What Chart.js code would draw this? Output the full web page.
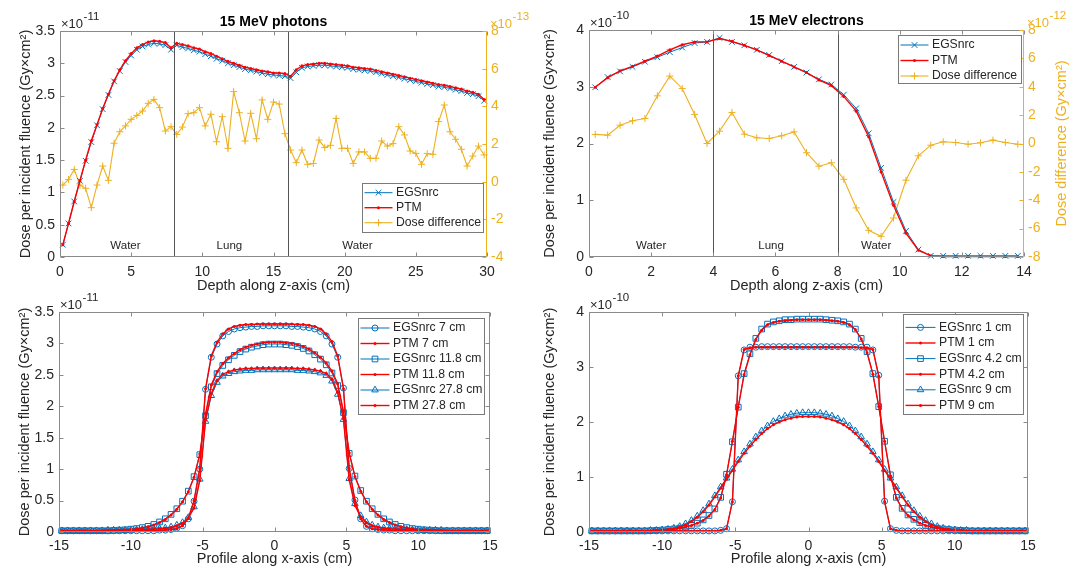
<!DOCTYPE html>
<html>
<head>
<meta charset="utf-8">
<script src="https://cdn.jsdelivr.net/npm/chart.js@4.4.0/dist/chart.umd.min.js"></script>
<style>
  body { margin: 0; background: #fff; width: 1083px; height: 566px; position: relative; overflow: hidden; }
  canvas { position: absolute; }
</style>
</head>
<body>
<canvas id="c1" width="540" height="300" style="left:0;top:0"></canvas>
<canvas id="c2" width="543" height="300" style="left:540px;top:0"></canvas>
<canvas id="c3" width="540" height="273" style="left:0;top:293px"></canvas>
<canvas id="c4" width="543" height="273" style="left:540px;top:293px"></canvas>
<script>
// ---- depth doses (values in units of the axis exponent) ----
const photonDepth = [0.2,0.6,1.0,1.4,1.8,2.2,2.6,3.0,3.4,3.8,4.2,4.6,5.0,5.4,5.8,6.2,6.6,7.0,7.4,7.8,8.2,8.6,9.0,9.4,9.8,10.2,10.6,11.0,11.4,11.8,12.2,12.6,13.0,13.4,13.8,14.2,14.6,15.0,15.4,15.8,16.2,16.6,17.0,17.4,17.8,18.2,18.6,19.0,19.4,19.8,20.2,20.6,21.0,21.4,21.8,22.2,22.6,23.0,23.4,23.8,24.2,24.6,25.0,25.4,25.8,26.2,26.6,27.0,27.4,27.8,28.2,28.6,29.0,29.4,29.8];
const photonEgs = [0.19,0.52,0.86,1.18,1.49,1.78,2.04,2.29,2.51,2.72,2.88,3.02,3.12,3.21,3.26,3.29,3.31,3.30,3.28,3.21,3.28,3.25,3.23,3.20,3.18,3.14,3.11,3.07,3.04,3.00,2.97,2.94,2.91,2.89,2.87,2.85,2.83,2.82,2.81,2.80,2.77,2.86,2.93,2.95,2.96,2.97,2.97,2.96,2.95,2.94,2.93,2.91,2.90,2.89,2.88,2.86,2.84,2.82,2.80,2.78,2.76,2.74,2.72,2.70,2.68,2.66,2.64,2.63,2.61,2.59,2.57,2.54,2.52,2.49,2.42];
const photonPtm = [0.19,0.52,0.86,1.18,1.50,1.80,2.05,2.30,2.52,2.73,2.90,3.04,3.15,3.24,3.29,3.33,3.35,3.34,3.32,3.24,3.31,3.29,3.27,3.24,3.22,3.18,3.15,3.11,3.07,3.03,3.00,2.97,2.94,2.92,2.90,2.88,2.87,2.85,2.85,2.84,2.80,2.90,2.96,2.98,2.99,3.00,3.00,2.99,2.98,2.97,2.96,2.94,2.93,2.92,2.91,2.89,2.87,2.85,2.83,2.81,2.79,2.77,2.75,2.73,2.71,2.69,2.67,2.66,2.64,2.62,2.60,2.57,2.55,2.52,2.44];
const photonDiff = [-0.18,0.12,0.65,-0.18,-0.35,-1.38,-0.18,0.83,0.07,2.04,2.65,2.96,3.31,3.52,3.75,4.16,4.37,3.93,2.69,2.92,2.51,2.90,3.61,3.66,3.93,2.96,3.58,2.12,3.45,1.77,4.78,3.66,2.16,3.63,2.28,4.34,3.31,4.23,4.12,2.55,1.68,1.01,1.68,0.92,0.97,2.21,1.81,1.93,3.36,1.77,1.77,0.97,1.58,1.58,1.24,1.24,2.16,1.89,2.02,2.92,2.48,1.63,1.50,0.92,1.49,1.45,3.19,4.07,2.65,2.25,1.72,0.83,1.36,1.89,1.42];

const electronDepth = [0.2,0.6,1.0,1.4,1.8,2.2,2.6,3.0,3.4,3.8,4.2,4.6,5.0,5.4,5.8,6.2,6.6,7.0,7.4,7.8,8.2,8.6,9.0,9.4,9.8,10.2,10.6,11.0,11.4,11.8,12.2,12.6,13.0,13.4,13.8];
const electronEgs = [2.99,3.17,3.27,3.35,3.44,3.52,3.61,3.69,3.77,3.79,3.86,3.79,3.73,3.65,3.56,3.45,3.35,3.25,3.13,3.04,2.86,2.62,2.18,1.57,0.97,0.46,0.13,0.02,0.02,0.02,0.02,0.02,0.02,0.02,0.02];
const electronPtm = [2.99,3.16,3.28,3.36,3.45,3.54,3.65,3.74,3.79,3.79,3.85,3.80,3.73,3.65,3.55,3.45,3.35,3.25,3.12,3.02,2.83,2.57,2.12,1.50,0.91,0.42,0.12,0.02,0.01,0.01,0.01,0.01,0.01,0.01,0.01];
const electronDiff = [0.64,0.59,1.29,1.60,1.76,3.36,4.75,3.88,2.05,0.0,0.87,2.19,0.66,0.40,0.35,0.54,0.82,-0.65,-1.60,-1.36,-2.52,-4.54,-6.12,-6.54,-5.25,-2.59,-0.87,-0.12,0.12,0.07,-0.05,0.05,0.24,0.07,-0.05];

// ---- lateral profiles ----
const profileX = [-14.8,-14.4,-14.0,-13.6,-13.2,-12.8,-12.4,-12.0,-11.6,-11.2,-10.8,-10.4,-10.0,-9.6,-9.2,-8.8,-8.4,-8.0,-7.6,-7.2,-6.8,-6.4,-6.0,-5.6,-5.2,-4.8,-4.4,-4.0,-3.6,-3.2,-2.8,-2.4,-2.0,-1.6,-1.2,-0.8,-0.4,0,0.4,0.8,1.2,1.6,2.0,2.4,2.8,3.2,3.6,4.0,4.4,4.8,5.2,5.6,6.0,6.4,6.8,7.2,7.6,8.0,8.4,8.8,9.2,9.6,10.0,10.4,10.8,11.2,11.6,12.0,12.4,12.8,13.2,13.6,14.0,14.4,14.8];

const photonEgs7 = [0.02,0.02,0.02,0.02,0.02,0.02,0.02,0.02,0.02,0.02,0.02,0.02,0.02,0.02,0.02,0.02,0.02,0.03,0.03,0.04,0.06,0.10,0.21,0.49,1.00,2.27,2.78,2.99,3.12,3.19,3.23,3.25,3.26,3.27,3.27,3.28,3.28,3.28,3.28,3.28,3.27,3.27,3.26,3.25,3.23,3.19,3.12,2.99,2.78,2.29,1.01,0.51,0.21,0.09,0.05,0.04,0.03,0.03,0.02,0.02,0.02,0.02,0.02,0.02,0.02,0.02,0.02,0.02,0.02,0.02,0.02,0.02,0.02,0.02,0.02];
const photonPtm7 = [0.02,0.02,0.02,0.02,0.02,0.02,0.02,0.02,0.02,0.02,0.02,0.02,0.02,0.02,0.02,0.02,0.02,0.03,0.03,0.04,0.05,0.10,0.22,0.50,1.02,2.28,2.80,3.02,3.15,3.23,3.27,3.29,3.30,3.30,3.31,3.31,3.31,3.31,3.31,3.31,3.31,3.30,3.30,3.29,3.27,3.23,3.15,3.03,2.80,2.28,1.01,0.50,0.21,0.09,0.05,0.04,0.03,0.03,0.02,0.02,0.02,0.02,0.02,0.02,0.02,0.02,0.02,0.02,0.02,0.02,0.02,0.02,0.02,0.02,0.02];
const photonEgs118 = [0.02,0.02,0.02,0.02,0.02,0.02,0.02,0.02,0.02,0.025,0.03,0.035,0.045,0.055,0.07,0.09,0.12,0.16,0.21,0.28,0.37,0.49,0.65,0.88,1.23,1.85,2.31,2.52,2.65,2.74,2.81,2.87,2.91,2.94,2.96,2.98,2.99,2.99,2.99,2.98,2.97,2.95,2.92,2.88,2.82,2.75,2.66,2.53,2.33,1.90,1.25,0.89,0.66,0.49,0.37,0.28,0.21,0.16,0.12,0.09,0.07,0.055,0.045,0.035,0.03,0.025,0.02,0.02,0.02,0.02,0.02,0.02,0.02,0.02,0.02];
const photonPtm118 = [0.02,0.02,0.02,0.02,0.02,0.02,0.02,0.02,0.02,0.025,0.03,0.035,0.04,0.05,0.065,0.085,0.11,0.15,0.20,0.27,0.36,0.48,0.64,0.87,1.24,1.88,2.34,2.55,2.68,2.77,2.84,2.90,2.94,2.97,2.99,3.01,3.02,3.02,3.02,3.01,3.00,2.98,2.95,2.91,2.85,2.78,2.69,2.56,2.36,1.92,1.26,0.88,0.65,0.48,0.36,0.27,0.20,0.15,0.11,0.085,0.065,0.05,0.04,0.035,0.03,0.025,0.02,0.02,0.02,0.02,0.02,0.02,0.02,0.02,0.02];
const photonEgs278 = [0.02,0.02,0.02,0.02,0.02,0.02,0.02,0.02,0.03,0.03,0.03,0.03,0.03,0.035,0.04,0.04,0.05,0.055,0.065,0.08,0.11,0.15,0.23,0.40,0.84,1.76,2.17,2.38,2.48,2.52,2.55,2.56,2.57,2.57,2.58,2.58,2.58,2.58,2.58,2.58,2.58,2.57,2.57,2.56,2.55,2.53,2.49,2.40,2.19,1.79,0.85,0.45,0.26,0.16,0.11,0.08,0.065,0.055,0.05,0.04,0.04,0.035,0.03,0.03,0.03,0.03,0.03,0.02,0.02,0.02,0.02,0.02,0.02,0.02,0.02];
const photonPtm278 = [0.02,0.02,0.02,0.02,0.02,0.02,0.02,0.02,0.03,0.03,0.03,0.03,0.03,0.03,0.035,0.04,0.045,0.05,0.06,0.07,0.10,0.14,0.22,0.38,0.82,1.78,2.20,2.41,2.51,2.55,2.58,2.59,2.60,2.60,2.61,2.61,2.61,2.61,2.61,2.61,2.61,2.60,2.60,2.59,2.58,2.56,2.52,2.43,2.22,1.80,0.83,0.42,0.24,0.15,0.10,0.08,0.06,0.05,0.045,0.04,0.035,0.03,0.03,0.03,0.03,0.03,0.03,0.02,0.02,0.02,0.02,0.02,0.02,0.02,0.02];

const electronEgs1 = [0.02,0.02,0.02,0.02,0.02,0.02,0.02,0.02,0.02,0.02,0.02,0.02,0.02,0.02,0.02,0.02,0.02,0.02,0.02,0.02,0.02,0.02,0.03,0.06,0.55,2.84,3.31,3.36,3.36,3.37,3.37,3.37,3.37,3.37,3.37,3.37,3.37,3.37,3.37,3.37,3.37,3.37,3.37,3.37,3.37,3.36,3.36,3.36,3.31,2.85,0.56,0.06,0.03,0.02,0.02,0.02,0.02,0.02,0.02,0.02,0.02,0.02,0.02,0.02,0.02,0.02,0.02,0.02,0.02,0.02,0.02,0.02,0.02,0.02,0.02];
const electronPtm1 = [0.02,0.02,0.02,0.02,0.02,0.02,0.02,0.02,0.02,0.02,0.02,0.02,0.02,0.02,0.02,0.02,0.02,0.02,0.02,0.02,0.02,0.02,0.03,0.06,0.55,2.84,3.32,3.35,3.36,3.36,3.36,3.36,3.36,3.36,3.36,3.36,3.36,3.36,3.36,3.36,3.36,3.36,3.36,3.36,3.36,3.36,3.35,3.35,3.32,2.83,0.55,0.06,0.03,0.02,0.02,0.02,0.02,0.02,0.02,0.02,0.02,0.02,0.02,0.02,0.02,0.02,0.02,0.02,0.02,0.02,0.02,0.02,0.02,0.02,0.02];
const electronEgs42 = [0.02,0.02,0.02,0.02,0.02,0.02,0.02,0.02,0.02,0.02,0.025,0.03,0.035,0.045,0.055,0.07,0.09,0.12,0.16,0.22,0.30,0.42,0.63,1.05,1.64,2.27,2.88,3.24,3.52,3.69,3.78,3.82,3.84,3.86,3.86,3.87,3.87,3.87,3.87,3.87,3.86,3.85,3.84,3.82,3.78,3.69,3.52,3.28,2.88,2.28,1.65,1.04,0.63,0.43,0.31,0.23,0.17,0.12,0.09,0.07,0.055,0.045,0.035,0.03,0.025,0.02,0.02,0.02,0.02,0.02,0.02,0.02,0.02,0.02,0.02];
const electronPtm42 = [0.02,0.02,0.02,0.02,0.02,0.02,0.02,0.02,0.02,0.02,0.025,0.03,0.035,0.045,0.055,0.07,0.09,0.12,0.16,0.21,0.29,0.41,0.62,1.04,1.65,2.27,2.86,3.22,3.50,3.67,3.77,3.81,3.83,3.84,3.85,3.86,3.86,3.86,3.86,3.86,3.85,3.84,3.83,3.81,3.77,3.68,3.51,3.26,2.87,2.28,1.65,1.02,0.62,0.42,0.30,0.22,0.16,0.12,0.09,0.07,0.055,0.045,0.035,0.03,0.025,0.02,0.02,0.02,0.02,0.02,0.02,0.02,0.02,0.02,0.02];
const electronEgs9 = [0.02,0.02,0.02,0.02,0.02,0.02,0.02,0.02,0.02,0.02,0.03,0.03,0.04,0.05,0.07,0.10,0.15,0.21,0.29,0.39,0.51,0.66,0.82,0.98,1.14,1.31,1.46,1.60,1.73,1.84,1.93,2.01,2.06,2.11,2.14,2.16,2.17,2.17,2.17,2.16,2.14,2.11,2.06,2.01,1.93,1.84,1.73,1.60,1.46,1.31,1.14,0.98,0.82,0.66,0.51,0.39,0.29,0.21,0.15,0.10,0.07,0.05,0.04,0.03,0.03,0.02,0.02,0.02,0.02,0.02,0.02,0.02,0.02,0.02,0.02];
const electronPtm9 = [0.02,0.02,0.02,0.02,0.02,0.02,0.02,0.02,0.02,0.02,0.025,0.03,0.035,0.045,0.06,0.09,0.13,0.19,0.27,0.37,0.49,0.64,0.80,0.96,1.12,1.28,1.43,1.56,1.68,1.79,1.88,1.95,2.00,2.04,2.07,2.09,2.10,2.10,2.10,2.09,2.07,2.04,2.00,1.95,1.88,1.79,1.68,1.56,1.43,1.28,1.12,0.96,0.80,0.64,0.49,0.37,0.27,0.19,0.13,0.09,0.06,0.045,0.035,0.03,0.025,0.02,0.02,0.02,0.02,0.02,0.02,0.02,0.02,0.02,0.02];

// ---- tick labels ----
const photonDepthTicks = [0,5,10,15,20,25,30];
const electronDepthTicks = [0,2,4,6,8,10,12,14];
const profileTicks = [-15,-10,-5,0,5,10,15];
const photonDoseTicks = [0,0.5,1,1.5,2,2.5,3,3.5];
const electronDoseTicks = [0,1,2,3,4];
const photonDiffTicks = [-4,-2,0,2,4,6,8];
const electronDiffTicks = [-8,-6,-4,-2,0,2,4,6,8];

const BLUE = '#0072BD', RED = '#FF0000', ORANGE = '#EDB120', INK = '#262626';
const FONT = '"Liberation Sans", Arial, sans-serif';
Chart.defaults.font.family = FONT;
Chart.defaults.color = INK;

function pts(xs, ys) {
  return xs.map((x, i) => ({ x: x, y: ys[i] }));
}

function egs(label, xs, ys, style, r) {
  return {
    label: label, data: pts(xs, ys), borderColor: BLUE, backgroundColor: BLUE, borderWidth: 1,
    pointStyle: style, pointRadius: r, pointBorderColor: BLUE, pointBackgroundColor: 'rgba(0,0,0,0)',
    pointBorderWidth: 1, order: 1, clip: false, tension: 0
  };
}
function ptm(label, xs, ys) {
  return {
    label: label, data: pts(xs, ys), borderColor: RED, backgroundColor: RED, borderWidth: 1.4,
    pointStyle: 'circle', pointRadius: 1.5, pointBorderColor: RED, pointBackgroundColor: RED,
    pointBorderWidth: 0, order: 0, clip: false, tension: 0
  };
}
function diff(label, xs, ys) {
  return {
    label: label, data: pts(xs, ys), yAxisID: 'y2', borderColor: ORANGE, backgroundColor: ORANGE, borderWidth: 1.1,
    pointStyle: 'cross', pointRadius: 3.5, pointBorderColor: ORANGE, pointBackgroundColor: ORANGE,
    pointBorderWidth: 1, order: 2, clip: false, tension: 0
  };
}

function drawExponent(ctx, x, y, exp, color) {
  ctx.fillStyle = color;
  ctx.textAlign = 'left';
  ctx.textBaseline = 'middle';
  ctx.font = '13px ' + FONT;
  ctx.fillText('×10', x, y);
  const w = ctx.measureText('×10').width;
  ctx.font = '11.5px ' + FONT;
  ctx.fillText(exp, x + w + 0.5, y - 7);
}

// MATLAB-like box, inward ticks, labels and legend
const matlabAxes = {
  id: 'matlab',
  afterDatasetsDraw(chart, args, o) {
    const { ctx, chartArea: ca, scales } = chart;
    const L = Math.round(ca.left) + 0.5, R = Math.round(ca.right) - 0.5;
    const T = Math.round(ca.top) + 0.5, B = Math.round(ca.bottom) - 0.5;
    ctx.save();
    ctx.lineWidth = 1;
    (o.boundaries || []).forEach(v => {
      const px = Math.round(scales.x.getPixelForValue(v)) + 0.5;
      ctx.strokeStyle = '#555555';
      ctx.beginPath(); ctx.moveTo(px, T); ctx.lineTo(px, B); ctx.stroke();
    });
    ctx.fillStyle = INK;
    ctx.font = '11.5px ' + FONT;
    ctx.textAlign = 'center';
    ctx.textBaseline = 'middle';
    (o.regions || []).forEach(r => ctx.fillText(r.text, scales.x.getPixelForValue(r.x), ca.bottom - 11.5));

    const tk = 4;
    ctx.strokeStyle = '#8a8a8a';
    ctx.beginPath();
    ctx.moveTo(R, T); ctx.lineTo(L, T); ctx.lineTo(L, B); ctx.lineTo(R, B);
    if (!scales.y2) ctx.lineTo(R, T);
    scales.x.ticks.forEach(t => {
      const px = Math.round(scales.x.getPixelForValue(t.value)) + 0.5;
      ctx.moveTo(px, B); ctx.lineTo(px, B - tk);
      ctx.moveTo(px, T); ctx.lineTo(px, T + tk);
    });
    scales.y.ticks.forEach(t => {
      const py = Math.round(scales.y.getPixelForValue(t.value)) + 0.5;
      ctx.moveTo(L, py); ctx.lineTo(L + tk, py);
      if (!scales.y2) { ctx.moveTo(R, py); ctx.lineTo(R - tk, py); }
    });
    ctx.stroke();
    if (scales.y2) {
      ctx.strokeStyle = ORANGE;
      ctx.beginPath();
      ctx.moveTo(R, T); ctx.lineTo(R, B);
      scales.y2.ticks.forEach(t => {
        const py = Math.round(scales.y2.getPixelForValue(t.value)) + 0.5;
        ctx.moveTo(R, py); ctx.lineTo(R - tk, py);
      });
      ctx.stroke();
    }
    ctx.restore();
  },
  afterDraw(chart, args, o) {
    const { ctx, chartArea: ca } = chart;
    ctx.save();
    if (o.title) {
      ctx.fillStyle = '#000';
      ctx.font = 'bold 14px ' + FONT;
      ctx.textAlign = 'center';
      ctx.textBaseline = 'middle';
      ctx.fillText(o.title, (ca.left + ca.right) / 2, ca.top - 9);
    }
    drawExponent(ctx, ca.left + 1, ca.top - 7, o.exp, INK);
    if (o.exp2) drawExponent(ctx, ca.right + 3, ca.top - 7, o.exp2, ORANGE);
    if (o.rightTitle) {
      ctx.save();
      ctx.translate(chart.width - 21, (ca.top + ca.bottom) / 2);
      ctx.rotate(-Math.PI / 2);
      ctx.fillStyle = ORANGE;
      ctx.font = '14.5px ' + FONT;
      ctx.textAlign = 'center';
      ctx.textBaseline = 'middle';
      ctx.fillText(o.rightTitle, 0, 0);
      ctx.restore();
    }
    const lg = o.legend;
    ctx.fillStyle = '#fff';
    ctx.fillRect(lg.x, lg.y, lg.w, lg.h);
    ctx.strokeStyle = '#7a7a7a';
    ctx.lineWidth = 1;
    ctx.strokeRect(Math.round(lg.x) + 0.5, Math.round(lg.y) + 0.5, Math.round(lg.w), Math.round(lg.h));
    ctx.font = '12.2px ' + FONT;
    ctx.textAlign = 'left';
    ctx.textBaseline = 'middle';
    chart.data.datasets.forEach((ds, i) => {
      const y = lg.y + lg.first + i * lg.row;
      const x0 = lg.x + 2.5, x1 = x0 + lg.line;
      ctx.strokeStyle = ds.borderColor;
      ctx.lineWidth = ds.borderWidth;
      ctx.beginPath(); ctx.moveTo(x0, y); ctx.lineTo(x1, y); ctx.stroke();
      ctx.fillStyle = ds.pointBackgroundColor;
      ctx.lineWidth = ds.pointBorderWidth || 0.01;
      Chart.helpers.drawPoint(ctx, { pointStyle: ds.pointStyle, radius: ds.pointRadius, rotation: 0, borderWidth: ds.pointBorderWidth }, (x0 + x1) / 2, y);
      ctx.fillStyle = INK;
      ctx.fillText(ds.label, x1 + 3.5, y);
    });
    ctx.restore();
  }
};

const plain = v => String(v);

function xAxis(min, max, ticks, title, h, tickPad, titleShift) {
  return {
    type: 'linear', min: min, max: max,
    grid: { display: false, drawTicks: false }, border: { display: false },
    afterBuildTicks: s => { s.ticks = ticks.map(v => ({ value: v })); },
    afterFit: s => { s.height = h; },
    ticks: { padding: tickPad, color: INK, font: { size: 14 }, maxRotation: 0, callback: plain },
    title: { display: true, text: title, color: INK, font: { size: 14.5 }, padding: { top: 0, bottom: titleShift } }
  };
}
function yAxis(min, max, ticks, w, pad) {
  return {
    type: 'linear', min: min, max: max,
    grid: { display: false, drawTicks: false }, border: { display: false },
    afterBuildTicks: s => { s.ticks = ticks.map(v => ({ value: v })); },
    afterFit: s => { s.width = w; },
    ticks: { padding: 5, color: INK, font: { size: 14 }, callback: plain },
    title: { display: true, text: 'Dose per incident fluence (Gy×cm²)', color: INK, font: { size: 14.5 }, padding: { top: pad, bottom: 0 } }
  };
}
function y2Axis(min, max, ticks, w) {
  return {
    type: 'linear', position: 'right', min: min, max: max,
    grid: { display: false, drawTicks: false }, border: { display: false },
    afterBuildTicks: s => { s.ticks = ticks.map(v => ({ value: v })); },
    afterFit: s => { s.width = w; },
    ticks: { padding: 4, color: ORANGE, font: { size: 14 }, callback: plain }
  };
}

function make(id, datasets, scales, padding, matlab) {
  new Chart(document.getElementById(id), {
    type: 'line',
    data: { datasets: datasets },
    options: {
      responsive: false, animation: false, devicePixelRatio: 1,
      layout: { padding: padding },
      scales: scales,
      plugins: { legend: { display: false }, tooltip: { enabled: false }, matlab: matlab }
    },
    plugins: [matlabAxes]
  });
}

make('c1', [
  egs('EGSnrc', photonDepth, photonEgs, 'crossRot', 4),
  ptm('PTM', photonDepth, photonPtm),
  diff('Dose difference', photonDepth, photonDiff)
], {
  x: xAxis(0, 30, photonDepthTicks, 'Depth along z-axis (cm)', 43, 7, 5.5),
  y: yAxis(0, 3.5, photonDoseTicks, 60, 17),
  y2: y2Axis(-4, 8, photonDiffTicks, 53)
}, { top: 31, left: 0, right: 0, bottom: 0 }, {
  title: '15 MeV photons', exp: '-11', exp2: '-13',
  boundaries: [8, 16],
  regions: [{ x: 4.6, text: 'Water' }, { x: 11.9, text: 'Lung' }, { x: 20.9, text: 'Water' }],
  legend: { x: 362, y: 183, w: 121, h: 49, first: 9.7, row: 15, line: 28 }
});

make('c2', [
  egs('EGSnrc', electronDepth, electronEgs, 'crossRot', 4),
  ptm('PTM', electronDepth, electronPtm),
  diff('Dose difference', electronDepth, electronDiff)
], {
  x: xAxis(0, 14, electronDepthTicks, 'Depth along z-axis (cm)', 43, 7, 5.5),
  y: yAxis(0, 4, electronDoseTicks, 49, 1.5),
  y2: y2Axis(-8, 8, electronDiffTicks, 59)
}, { top: 30, left: 0, right: 0, bottom: 0 }, {
  title: '15 MeV electrons', exp: '-10', exp2: '-12',
  rightTitle: 'Dose difference (Gy×cm²)',
  boundaries: [4, 8],
  regions: [{ x: 2.0, text: 'Water' }, { x: 5.86, text: 'Lung' }, { x: 9.24, text: 'Water' }],
  legend: { x: 358, y: 35, w: 123, h: 48, first: 10, row: 15.5, line: 28 }
});

make('c3', [
  egs('EGSnrc 7 cm', profileX, photonEgs7, 'circle', 3),
  ptm('PTM 7 cm', profileX, photonPtm7),
  egs('EGSnrc 11.8 cm', profileX, photonEgs118, 'rect', 4),
  ptm('PTM 11.8 cm', profileX, photonPtm118),
  egs('EGSnrc 27.8 cm', profileX, photonEgs278, 'triangle', 3.8),
  ptm('PTM 27.8 cm', profileX, photonPtm278)
], {
  x: xAxis(-15, 15, profileTicks, 'Profile along x-axis (cm)', 34, 6, -2),
  y: yAxis(0, 3.5, photonDoseTicks, 59, 16)
}, { top: 19, left: 0, right: 50, bottom: 0 }, {
  exp: '-11',
  legend: { x: 358, y: 25, w: 126, h: 96, first: 10, row: 15.5, line: 29 }
});

make('c4', [
  egs('EGSnrc 1 cm', profileX, electronEgs1, 'circle', 3),
  ptm('PTM 1 cm', profileX, electronPtm1),
  egs('EGSnrc 4.2 cm', profileX, electronEgs42, 'rect', 4),
  ptm('PTM 4.2 cm', profileX, electronPtm42),
  egs('EGSnrc 9 cm', profileX, electronEgs9, 'triangle', 3.8),
  ptm('PTM 9 cm', profileX, electronPtm9)
], {
  x: xAxis(-15, 15, profileTicks, 'Profile along x-axis (cm)', 34, 6, -2),
  y: yAxis(0, 4, electronDoseTicks, 49, 1.5)
}, { top: 19, left: 0, right: 55, bottom: 0 }, {
  exp: '-10',
  legend: { x: 363, y: 21, w: 120, h: 100, first: 13.4, row: 15.6, line: 30 }
});
</script>
</body>
</html>
